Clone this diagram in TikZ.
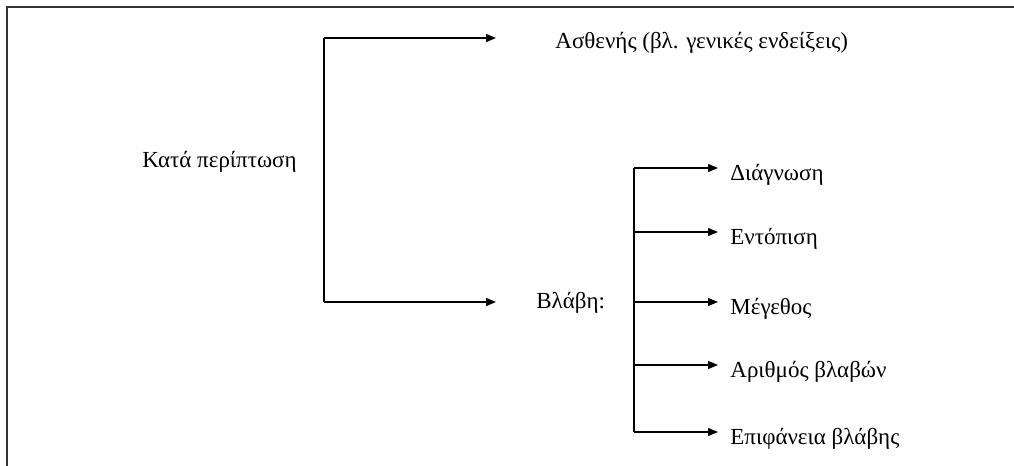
\documentclass[tikz,border=0pt]{standalone}
\usepackage{fontspec}
\setmainfont{Liberation Serif}
\usetikzlibrary{arrows.meta}

\tikzset{
  arr/.style={-{Triangle[length=5pt,width=4pt]}, line width=0.6pt},
  lbl/.style={anchor=base west, inner sep=0pt, font=\fontsize{11.5}{14}\selectfont},
}

\begin{document}
\begin{tikzpicture}[x=0.5pt, y=-0.5pt]
  \useasboundingbox (0,0) rectangle (1014,466);
  % frame, top and left edges only
  \draw[line width=1pt, black!80] (7,466) -- (7,7) -- (1014,7);

  % first level
  \node[lbl] (case) at (142,167) {Κατά περίπτωση};
  \coordinate (top) at (324,38);
  \coordinate (bot) at (324,302);
  \coordinate (toptip) at (496,38);
  \coordinate (bottip) at (496,302);
  \node[lbl] (patient) at (555,48) {Ασθενής (βλ. γενικές ενδείξεις)};
  \node[lbl] (lesion) at (536,308) {Βλάβη:};
  \draw[line width=0.6pt] (top) -- (bot);
  \draw[arr] (top) -- (toptip);
  \draw[arr] (bot) -- (bottip);

  % second level
  \foreach \y/\name/\txt in {168/diag/Διάγνωση, 232/loc/Εντόπιση, 302/size/Μέγεθος,
                            365/num/Αριθμός βλαβών, 432/area/Επιφάνεια βλάβης} {
    \coordinate (\name-j) at (634,\y);
    \coordinate (\name-t) at (718,\y);
    \node[lbl] (\name) at (730,\y+12) {\txt};
    \draw[arr] (\name-j) -- (\name-t);
  }
  \draw[line width=0.6pt] (diag-j) -- (area-j);
\end{tikzpicture}
\end{document}
